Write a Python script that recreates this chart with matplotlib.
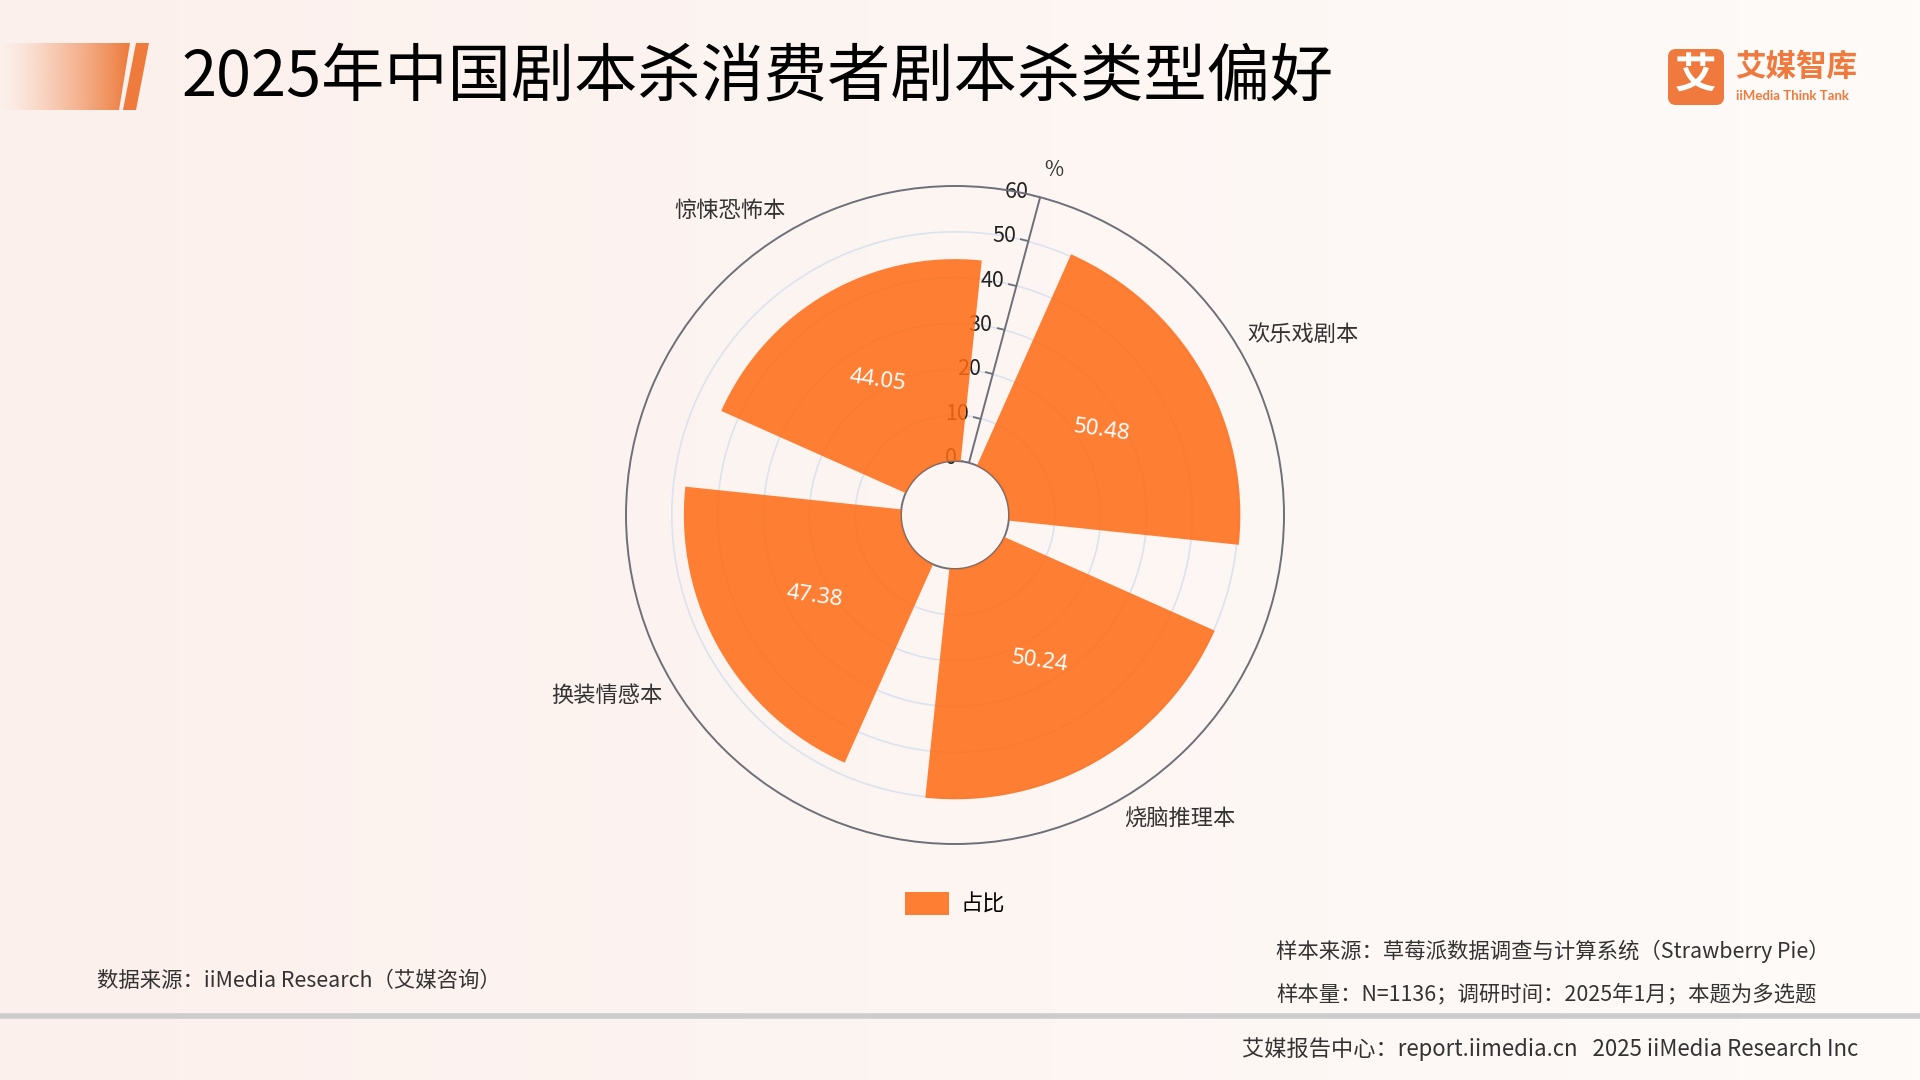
import numpy as np
import matplotlib
matplotlib.use('Agg')
import matplotlib.pyplot as plt
from matplotlib.patches import Polygon, FancyBboxPatch
from matplotlib.markers import MarkerStyle
from matplotlib.transforms import Affine2D, offset_copy

plt.rcParams['font.family'] = ['Noto Sans CJK SC', 'DejaVu Sans']

# ---------------- data ----------------
categories = ['欢乐戏剧本', '烧脑推理本', '换装情感本', '惊悚恐怖本']
values = [50.48, 50.24, 47.38, 44.05]
radial_ticks = [0, 10, 20, 30, 40, 50, 60]
series_name = '占比'
unit_label = '%'
title = '2025年中国剧本杀消费者剧本杀类型偏好'
source_left = '数据来源：iiMedia Research（艾媒咨询）'
sample_source = '样本来源：草莓派数据调查与计算系统（Strawberry Pie）'
sample_size = '样本量：N=1136；调研时间：2025年1月；本题为多选题'
footer = '艾媒报告中心：report.iimedia.cn   2025 iiMedia Research Inc'

# ---------------- layout ----------------
W, H = 1920, 1080
fig = plt.figure(figsize=(19.2, 10.8), dpi=100)

bg = fig.add_axes([0, 0, 1, 1], zorder=-10)
bg.set_xlim(0, W)
bg.set_ylim(H, 0)
bg.axis('off')
g = np.linspace(0, 1, 256)
c0 = np.array([252, 240, 236]) / 255
c1 = np.array([254, 251, 249]) / 255
img = c0[None, :] * (1 - g[:, None]) + c1[None, :] * g[:, None]
bg.imshow(img[None, :, :], aspect='auto', extent=[0, W, H, 0], zorder=0)

# header decoration
orange = np.array([237, 122, 58]) / 255
ga = np.zeros((2, 256, 4))
ga[..., :3] = orange
ga[..., 3] = np.linspace(0.0, 1.0, 256) ** 1.3
im = bg.imshow(ga, aspect='auto', extent=[0, 130, 110, 43], zorder=1)
clip = Polygon([(0, 43), (130, 43), (119, 110), (0, 110)], closed=True,
               transform=bg.transData, fc='none', ec='none')
bg.add_patch(clip)
im.set_clip_path(clip)
bg.add_patch(Polygon([(136, 43), (149, 43), (136, 110), (123, 110)],
                     closed=True, fc='#EE7A3C', ec='none', zorder=2))
bg.text(182, 78, title, fontsize=45.5, va='center', ha='left', color='black', zorder=3)

# logo
bg.add_patch(FancyBboxPatch((1668, 49), 56, 56, boxstyle='round,pad=0,rounding_size=8',
                            fc='#F07A3E', ec='none', zorder=2))
bg.text(1696, 77, '艾', fontsize=30, color='white', weight='bold',
        ha='center', va='center', zorder=3)
bg.text(1735, 67, '艾媒智库', fontsize=22, color='#F07A3E', weight='bold',
        ha='left', va='center', zorder=3)
bg.text(1736, 96, 'iiMedia Think Tank', fontsize=9.5, color='#F07A3E', weight='bold',
        ha='left', va='center', zorder=3, family=['Lato', 'DejaVu Sans'])

# footer
bg.text(97, 981, source_left, fontsize=15.4, color='#333333', va='center', ha='left')
bg.text(1276, 951, sample_source, fontsize=15.4, color='#333333', va='center', ha='left')
bg.text(1276, 994, sample_size, fontsize=15.4, color='#333333', va='center', ha='left')
bg.plot([0, W], [1016, 1016], color='#CCCCCC', lw=4, solid_capstyle='butt')
bg.text(1858, 1049, footer, fontsize=16, color='#333333', va='center', ha='right')

# ---------------- polar chart ----------------
cx, cy, R = 955, 515, 329
ax = fig.add_axes([(cx - R) / W, (H - cy - R) / H, 2 * R / W, 2 * R / H],
                  projection='polar')
ax.set_facecolor('none')
rmax = radial_ticks[-1]
inner_frac = 54 / R

start_angle = 75.0
step = 360.0 / len(categories)
centers_deg = np.array([(start_angle - step / 2 - step * i) % 360 for i in range(len(categories))])
theta = np.deg2rad(centers_deg)
width = np.deg2rad(step * 0.8)

bars = ax.bar(theta, values, width=width, bottom=0, color='#FF6A12', alpha=0.85,
              zorder=3, label=series_name, edgecolor='none')

ax.set_yticks(radial_ticks[1:-1])
ax.set_yticklabels([])
ax.yaxis.grid(True, color='#DCE3EE', lw=1.2)
bounds = np.deg2rad([(start_angle - step * i) % 360 for i in range(len(categories))])
ax.set_xticks(bounds)
ax.set_xticklabels([])
ax.xaxis.grid(False)
ax.tick_params(axis='x', direction='out', length=7, color='#6E7079', width=1.3)
ax.tick_params(axis='y', length=0)
for sp in ax.spines.values():
    sp.set_color('#6E7079')
    sp.set_linewidth(1.4)

# radial axis line, ticks and labels
th_ax = np.deg2rad(start_angle)
ax.plot([th_ax, th_ax], [0, rmax], color='#6E7079', lw=1.4, zorder=4)
tick_marker = MarkerStyle(0, transform=Affine2D().rotate_deg(start_angle - 90))
ax.plot([th_ax] * len(radial_ticks), radial_ticks, ls='none', marker=tick_marker,
        ms=6, mew=1.3, color='#6E7079', zorder=4)
lab_tr = offset_copy(ax.transData, fig=fig, x=-12, y=5, units='dots')
for v in radial_ticks:
    ax.text(th_ax, v, str(v), transform=lab_tr, ha='right', va='center',
            fontsize=15.5, color='#222222', zorder=2)
ax.text(np.deg2rad(74), 66.5, unit_label, ha='center', va='center',
        fontsize=15, color='#333333')

# value labels
for t, v in zip(theta, values):
    ax.text(t, v / 2, f'{v:.2f}', ha='center', va='center', color='white',
            fontsize=16, rotation=-8, zorder=6, weight='medium',
            family=['Noto Sans', 'DejaVu Sans'])

# category labels
for t, cat in zip(theta, categories):
    c, s = np.cos(t), np.sin(t)
    ha = 'left' if c > 0 else 'right'
    va = 'bottom' if s > 0 else 'top'
    ax.text(t, rmax + 2, cat, ha=ha, va=va, fontsize=16, color='#333333')

ax.set_xlim(0, 2 * np.pi)
ax.set_ylim(0, rmax)
ax.set_rorigin(-inner_frac * rmax / (1 - inner_frac))

fig.legend([bars], [series_name], loc='center', bbox_to_anchor=(955 / W, 1 - 904 / H),
           frameon=False, fontsize=16, handlelength=2.0, handleheight=1.2,
           handletextpad=0.5)

fig.savefig('out.png', dpi=100)
